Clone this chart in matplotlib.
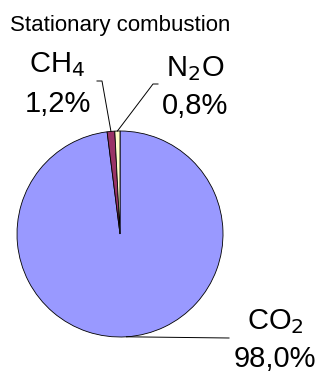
import numpy as np
import matplotlib.pyplot as plt

plt.rcParams['font.family'] = ['Liberation Sans', 'DejaVu Sans']

# shares of emissions from stationary combustion
gases = ['CO$_2$', 'CH$_4$', 'N$_2$O']
shares = [98.0, 1.2, 0.8]
share_labels = ['98,0%', '1,2%', '0,8%']
colors = ['#9999FF', '#993366', '#FFFFCC']

W, H = 320, 374
fig = plt.figure(figsize=(W / 100, H / 100), dpi=100)
# axes in pixel units, y pointing up
ax = fig.add_axes([0, 0, 1, 1])

cx, cy, r = 120, H - 234, 103
wedges, _ = ax.pie(shares, colors=colors, startangle=90, counterclock=False,
                   center=(cx, cy), radius=r, frame=True,
                   wedgeprops=dict(edgecolor='black', linewidth=0.6))
ax.set_xlim(0, W)
ax.set_ylim(0, H)
ax.set_aspect('equal')
ax.axis('off')

# label blocks: (centre x, name baseline, value baseline) from the top, and leader elbow
label_pos = [(275, 329, 367), (57.5, 72, 112), (195, 76, 114)]
elbows = [[(229, 338)], [(102, 81), (97, 81)], [(153, 84), (158, 84)]]

for w, gas, lab, (lx, yb1, yb2), elb in zip(wedges, gases, share_labels, label_pos, elbows):
    mid = np.deg2rad((w.theta1 + w.theta2) / 2)
    px, py = cx + r * np.cos(mid), cy + r * np.sin(mid)
    xs = [px] + [e[0] for e in elb]
    ys = [py] + [H - e[1] for e in elb]
    ax.plot(xs, ys, color='black', lw=0.7)
    ax.text(lx, H - yb1, gas, ha='center', va='baseline', fontsize=21)
    ax.text(lx, H - yb2, lab, ha='center', va='baseline', fontsize=21)

ax.text(10, H - 31, 'Stationary combustion', ha='left', va='baseline', fontsize=16)

fig.savefig('out.png', dpi=100)
